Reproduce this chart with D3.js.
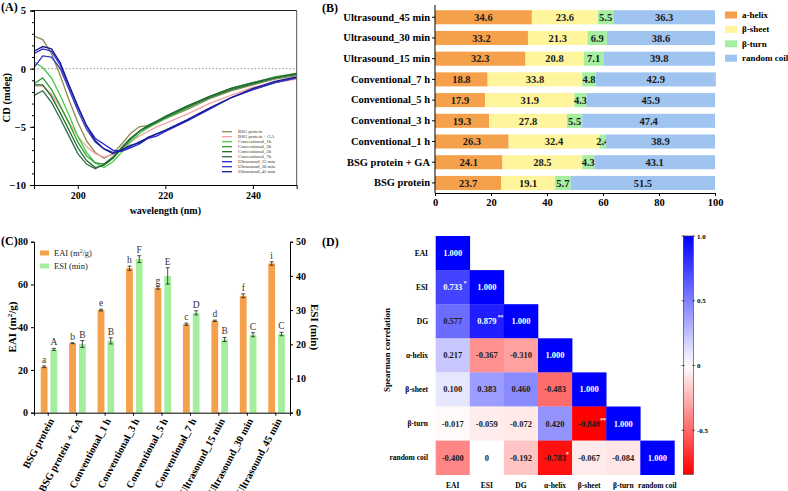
<!DOCTYPE html>
<html><head><meta charset="utf-8">
<script src="https://cdn.jsdelivr.net/npm/d3@7"></script>
<style>
body{margin:0;background:#fff}
text{font-family:"Liberation Serif","Times New Roman",serif}
</style>
</head><body>
<svg id="c" width="788" height="491"></svg>
<script>
// ---------- Panel A data ----------
const wavelengths=[190,192,194,196,198,200,202,204,206,208,210,212,214,216,218,220,225,230,235,240,245,250];
const cdBSG     =[2.8,2.5,1.3,-0.6,-2.7,-4.6,-6.2,-7.2,-7.7,-7.3,-6.5,-5.6,-5.0,-4.9,-4.6,-4.3,-3.5,-2.6,-1.9,-1.4,-0.9,-0.6];
const cdBSGGA   =[-1.5,-1.5,-2.2,-3.3,-4.6,-5.8,-6.7,-7.3,-7.6,-7.4,-6.9,-6.3,-5.8,-5.4,-5.0,-4.7,-3.9,-3.0,-2.3,-1.6,-1.2,-0.9];
const cdConv1h  =[0.6,0.1,-0.8,-2.3,-4.0,-5.8,-7.2,-8.1,-8.5,-8.0,-7.2,-6.3,-5.6,-5.1,-4.7,-4.3,-3.4,-2.5,-1.8,-1.3,-0.8,-0.5];
const cdConv3h  =[-1.3,-0.8,-1.8,-3.2,-4.7,-6.3,-7.5,-8.1,-8.2,-7.7,-6.8,-6.0,-5.4,-4.9,-4.6,-4.2,-3.3,-2.4,-1.7,-1.2,-0.7,-0.4];
const cdConv5h  =[-1.4,-1.4,-2.4,-3.8,-5.3,-6.8,-7.9,-8.5,-8.3,-7.7,-6.9,-6.1,-5.4,-4.9,-4.5,-4.1,-3.2,-2.4,-1.7,-1.2,-0.8,-0.4];
const cdConv7h  =[-2.3,-1.9,-2.9,-4.3,-5.8,-7.3,-8.2,-8.6,-8.2,-7.6,-6.8,-6.0,-5.4,-5.0,-4.6,-4.2,-3.3,-2.5,-1.8,-1.3,-0.8,-0.5];
const cdUS15    =[1.3,1.7,1.5,0.3,-1.5,-3.3,-4.9,-6.0,-6.5,-7.0,-7.1,-6.8,-6.5,-6.0,-5.8,-5.4,-4.5,-3.5,-2.5,-1.8,-1.2,-0.8];
const cdUS30    =[0.1,1.1,1.0,0.0,-1.8,-3.6,-5.2,-6.3,-6.9,-7.2,-7.0,-6.7,-6.3,-6.0,-5.6,-5.3,-4.4,-3.4,-2.5,-1.8,-1.2,-0.8];
const cdUS45    =[1.5,1.9,1.7,0.5,-1.4,-3.2,-4.9,-6.2,-6.9,-7.3,-7.0,-6.6,-6.4,-5.9,-5.6,-5.3,-4.4,-3.4,-2.5,-1.7,-1.1,-0.7];
const cdNames   =["BSG protein","BSG protein + GA","Conventional_1h","Conventional_3h","Conventional_5h","Conventional_7h","Ultrasound_15 min","Ultrasound_30 min","Ultrasound_45 min"];
const cdTicksY  =[-10,-5,0,5];
const cdTicksX  =[200,220,240];

// ---------- Panel B data ----------
const structCategories=["Ultrasound_45 min","Ultrasound_30 min","Ultrasound_15 min","Conventional_7 h","Conventional_5 h","Conventional_3 h","Conventional_1 h","BSG protein + GA","BSG protein"];
const alphaHelix=[34.6,33.2,32.3,18.8,17.9,19.3,26.3,24.1,23.7];
const betaSheet =[23.6,21.3,20.8,33.8,31.9,27.8,32.4,28.5,19.1];
const betaTurn  =[5.5,6.9,7.1,4.8,4.3,5.5,2.4,4.3,5.7];
const randomCoil=[36.3,38.6,39.8,42.9,45.9,47.4,38.9,43.1,51.5];
const structNames=["a-helix","β-sheet","β-turn","random coil"];
const structTicks=[0,20,40,60,80,100];

// ---------- Panel C data ----------
const emCategories=["BSG protein","BSG protein + GA","Conventional_1 h","Conventional_3 h","Conventional_5 h","Conventional_7 h","Ultrasound_15 min","Ultrasound_30 min","Ultrasound_45 min"];
const eaiValues=[21.5,32.5,48.0,67.6,58.4,41.4,43.0,54.7,69.8];
const eaiErrors=[0.4,0.2,0.4,1.0,0.6,0.5,0.3,0.9,0.8];
const esiValues=[18.5,20.1,21.0,44.9,40.0,29.2,21.4,22.8,23.0];
const esiErrors=[0.3,1.0,0.9,1.0,2.4,0.6,0.6,0.6,0.5];
const eaiLetters=["a","b","e","h","g","c","d","f","i"];
const esiLetters=["A","B","B","F","E","D","B","C","C"];
const eaiTicks=[0,20,40,60,80];
const esiTicks=[0,10,20,30,40,50];

// ---------- Panel D data ----------
const corrLabels=["EAI","ESI","DG","α-helix","β-sheet","β-turn","random coil"];
const corrRows=[
  [1.000],
  [0.733,1.000],
  [0.577,0.879,1.000],
  [0.217,-0.367,-0.310,1.000],
  [0.100,0.383,0.460,-0.483,1.000],
  [-0.017,-0.059,-0.072,0.420,-0.840,1.000],
  [-0.400,0,-0.192,-0.783,-0.067,-0.084,1.000]
];
const corrStars=[
  [""],
  ["*",""],
  ["","**",""],
  ["","","",""],
  ["","","","",""],
  ["","","","","***",""],
  ["","","","*","","",""]
];
const cbarTicks=[1.0,0.5,0,-0.5];

// =====================================================
const svg=d3.select("#c");
const F='"Liberation Serif","Times New Roman",serif';

function panelLabel(t,x,y){svg.append("text").attr("x",x).attr("y",y).attr("font-size",12).attr("font-weight","bold").text(t);}
function styleAxis(g,fs){
  g.selectAll("path,line").attr("stroke","#000").attr("stroke-width",1);
  g.selectAll("text").attr("font-family",F).attr("font-weight","bold").attr("font-size",fs).attr("fill","#000");
}

// ---------------- Panel A ----------------
(function(){
  const x=d3.scaleLinear().domain([190,250]).range([34,296.7]);
  const y=d3.scaleLinear().domain([-10,5]).range([185,10.5]);
  const g=svg.append("g");
  g.append("line").attr("x1",x(190)).attr("x2",x(250)).attr("y1",y(0)).attr("y2",y(0))
    .attr("stroke","#999").attr("stroke-dasharray","1.5,2").attr("stroke-width",1);
  const series=[cdBSG,cdBSGGA,cdConv1h,cdConv3h,cdConv5h,cdConv7h,cdUS15,cdUS30,cdUS45];
  const colors=["#8f8a4c","#f4a3a3","#45cc45","#2f9a2f","#1e6b1e","#2d6b4d","#2424d6","#3535c4","#1a1a8c"];
  const line=d3.line().x((d,i)=>x(wavelengths[i])).y(d=>y(d));
  series.forEach((s,k)=>{
    g.append("path").datum(s).attr("d",line).attr("fill","none").attr("stroke",colors[k]).attr("stroke-width",1.3);
  });
  g.append("line").attr("x1",x(190)).attr("x2",x(250)).attr("y1",y(5)).attr("y2",y(5)).attr("stroke","#222").attr("stroke-width",1);
  g.append("line").attr("x1",x(250)).attr("x2",x(250)).attr("y1",y(5)).attr("y2",y(-10)).attr("stroke","#555").attr("stroke-width",1);
  const minor=d3.range(-10,6,1);
  g.append("g").attr("transform",`translate(${x(190)},0)`).call(d3.axisLeft(y).tickValues(minor).tickSize(2).tickFormat(""))
   .call(a=>styleAxis(a,10));
  const ay=g.append("g").attr("transform",`translate(${x(190)},0)`).call(d3.axisLeft(y).tickValues(cdTicksY).tickSize(4).tickPadding(4).tickFormat(d3.format("d")));
  styleAxis(ay,10.5);
  const ax=g.append("g").attr("transform",`translate(0,${y(-10)})`).call(d3.axisBottom(x).tickValues(cdTicksX).tickSize(4).tickPadding(3));
  styleAxis(ax,10);
  svg.append("text").attr("transform",`translate(10,${(y(5)+y(-10))/2}) rotate(-90)`).attr("text-anchor","middle")
    .attr("font-size",10.5).attr("font-weight","bold").text("CD (mdeg)");
  svg.append("text").attr("x",(x(190)+x(250))/2).attr("y",214).attr("text-anchor","middle")
    .attr("font-size",10).attr("font-weight","bold").text("wavelength (nm)");
  const lg=g.append("g");
  cdNames.forEach((n,i)=>{
    const yy=131.7+i*5;
    lg.append("line").attr("x1",222).attr("x2",232).attr("y1",yy).attr("y2",yy).attr("stroke",colors[i]).attr("stroke-width",1.3);
    lg.append("text").attr("x",238).attr("y",yy+1.6).attr("font-size",4.8).attr("fill","#333").text(n);
  });
  panelLabel("(A)",1,11);
})();

// ---------------- Panel B ----------------
(function(){
  const x=d3.scaleLinear().domain([0,100]).range([435,715]);
  const y=d3.scaleBand().domain(structCategories).range([3.6,196.6]).padding(0.32);
  const cols=["#f5a14b","#fff59c","#a6efa0","#9fc4f0"];
  const g=svg.append("g");
  const data=structCategories.map((c,i)=>[alphaHelix[i],betaSheet[i],betaTurn[i],randomCoil[i]]);
  data.forEach((vals,i)=>{
    let acc=0;
    vals.forEach((v,k)=>{
      g.append("rect").attr("x",x(acc)).attr("y",y(structCategories[i])).attr("width",x(acc+v)-x(acc))
        .attr("height",y.bandwidth()).attr("fill",cols[k]);
      g.append("text").attr("x",(x(acc)+x(acc+v))/2).attr("y",y(structCategories[i])+y.bandwidth()/2+3.8)
        .attr("text-anchor","middle").attr("font-size",10.5).attr("font-weight","bold").attr("fill","#1a1a1a").text(v.toFixed(1));
      acc+=v;
    });
  });
  const ay=g.append("g").attr("transform",`translate(435,0)`).call(d3.axisLeft(y).tickSize(3).tickPadding(2));
  ay.select(".domain").remove();
  styleAxis(ay,10.5);
  g.append("line").attr("x1",435).attr("x2",435).attr("y1",5).attr("y2",193).attr("stroke","#000");
  const ax=g.append("g").attr("transform",`translate(0,193)`).call(d3.axisBottom(x).tickValues(structTicks).tickSize(3).tickPadding(3));
  styleAxis(ax,10.5);
  structNames.forEach((n,i)=>{
    const yy=15+i*14.4;
    g.append("rect").attr("x",725).attr("y",yy-3.5).attr("width",12).attr("height",7).attr("fill",cols[i]);
    g.append("text").attr("x",742).attr("y",yy+3).attr("font-size",9).attr("font-weight","bold").text(n);
  });
  panelLabel("(B)",322,12);
})();

// ---------------- Panel C ----------------
(function(){
  const x=d3.scaleBand().domain(emCategories).range([34,290]).padding(0);
  const yL=d3.scaleLinear().domain([0,80]).range([412.7,241.7]);
  const yR=d3.scaleLinear().domain([0,50]).range([412.7,241.7]);
  const g=svg.append("g");
  const bw=6.8;
  emCategories.forEach((c,i)=>{
    const cx=x(c)+x.bandwidth()/2+0.8;
    const xo=cx-8.3, xg=cx+1.5;
    g.append("rect").attr("x",xo).attr("y",yL(eaiValues[i])).attr("width",bw).attr("height",yL(0)-yL(eaiValues[i])).attr("fill","#f5a04a");
    g.append("rect").attr("x",xg).attr("y",yR(esiValues[i])).attr("width",bw).attr("height",yR(0)-yR(esiValues[i])).attr("fill","#a3ef9d");
    const eb=(xc,yt,yb)=>{
      g.append("line").attr("x1",xc).attr("x2",xc).attr("y1",yt).attr("y2",yb).attr("stroke","#222").attr("stroke-width",0.8);
      g.append("line").attr("x1",xc-2).attr("x2",xc+2).attr("y1",yt).attr("y2",yt).attr("stroke","#222").attr("stroke-width",0.8);
      g.append("line").attr("x1",xc-2).attr("x2",xc+2).attr("y1",yb).attr("y2",yb).attr("stroke","#222").attr("stroke-width",0.8);
    };
    eb(xo+bw/2,yL(eaiValues[i]+eaiErrors[i]),yL(eaiValues[i]-eaiErrors[i]));
    eb(xg+bw/2,yR(esiValues[i]+esiErrors[i]),yR(esiValues[i]-esiErrors[i]));
    g.append("text").attr("x",xo+bw/2).attr("y",yL(eaiValues[i]+eaiErrors[i])-3).attr("text-anchor","middle")
      .attr("font-size",9.5).attr("fill","#333").text(eaiLetters[i]);
    g.append("text").attr("x",xg+bw/2).attr("y",yR(esiValues[i]+esiErrors[i])-3).attr("text-anchor","middle")
      .attr("font-size",9.5).attr("fill","#333").text(esiLetters[i]);
  });
  const al=g.append("g").attr("transform","translate(34,0)").call(d3.axisLeft(yL).tickValues(eaiTicks).tickSize(3).tickPadding(3));
  styleAxis(al,10);
  const ar=g.append("g").attr("transform","translate(290,0)").call(d3.axisRight(yR).tickValues(esiTicks).tickSize(3).tickPadding(3));
  styleAxis(ar,10);
  const ab=g.append("g").attr("transform",`translate(0,412.7)`).call(d3.axisBottom(x).tickSize(3).tickFormat(""));
  styleAxis(ab,10);
  emCategories.forEach(c=>{
    const cx=x(c)+x.bandwidth()/2+3;
    g.append("text").attr("transform",`translate(${cx},419) rotate(-62)`).attr("text-anchor","end").attr("dy","0.35em")
      .attr("font-size",10.3).attr("font-weight","bold").text(c);
  });
  const tl=svg.append("text").attr("transform",`translate(16,327) rotate(-90)`).attr("text-anchor","middle")
    .attr("font-size",11).attr("font-weight","bold");
  tl.append("tspan").text("EAI (m");
  tl.append("tspan").attr("font-size",7).attr("dy",-4).text("2");
  tl.append("tspan").attr("dy",4).text("/g)");
  svg.append("text").attr("transform",`translate(311,327) rotate(90)`).attr("text-anchor","middle")
    .attr("font-size",11).attr("font-weight","bold").text("ESI (min)");
  g.append("rect").attr("x",40).attr("y",250.5).attr("width",9).attr("height",5).attr("fill","#f5a04a");
  const t1=g.append("text").attr("x",54).attr("y",256).attr("font-size",8.5).attr("fill","#222");
  t1.append("tspan").text("EAI (m");
  t1.append("tspan").attr("font-size",5.5).attr("dy",-3).text("2");
  t1.append("tspan").attr("dy",3).text("/g)");
  g.append("rect").attr("x",40).attr("y",263.5).attr("width",9).attr("height",5).attr("fill","#a3ef9d");
  g.append("text").attr("x",54).attr("y",269).attr("font-size",8.5).attr("fill","#222").text("ESI (min)");
  panelLabel("(C)",1,245);
})();

// ---------------- Panel D ----------------
(function(){
  const xs=d3.scaleBand().domain(corrLabels).range([435.7,674.4]);
  const ys=d3.scaleBand().domain(corrLabels).range([236,474.7]);
  const color=d3.scaleLinear().domain([-0.84,0,1]).range(["#ff0000","#ffffff","#0000ff"]);
  const g=svg.append("g");
  corrRows.forEach((row,i)=>{
    row.forEach((v,j)=>{
      const x0=xs(corrLabels[j]), y0=ys(corrLabels[i]);
      g.append("rect").attr("x",x0).attr("y",y0).attr("width",xs.bandwidth()+0.3).attr("height",ys.bandwidth()+0.3).attr("fill",color(v));
      const txt=v===0?"0":v.toFixed(3);
      const fill=v>0.7?"#ffffff":"#1a1a1a";
      g.append("text").attr("x",x0+xs.bandwidth()/2).attr("y",y0+ys.bandwidth()/2+3)
        .attr("text-anchor","middle").attr("font-size",8.5).attr("font-weight","bold").attr("fill",fill).text(txt);
      const st=corrStars[i][j];
      if(st){
        g.append("text").attr("x",x0+xs.bandwidth()/2+11).attr("y",y0+ys.bandwidth()/2-2)
          .attr("font-size",5.5).attr("font-weight","bold").attr("fill","#ffffff").text(st);
      }
    });
  });
  corrLabels.forEach(l=>{
    g.append("text").attr("x",428).attr("y",ys(l)+ys.bandwidth()/2+2.5).attr("text-anchor","end")
      .attr("font-size",7.5).attr("font-weight","bold").text(l);
    g.append("text").attr("x",xs(l)+xs.bandwidth()/2).attr("y",488).attr("text-anchor","middle")
      .attr("font-size",7.5).attr("font-weight","bold").text(l);
  });
  svg.append("text").attr("transform","translate(390,350) rotate(-90)").attr("text-anchor","middle")
    .attr("font-size",9).attr("font-weight","bold").text("Spearman correlation");
  const cy=d3.scaleLinear().domain([-0.84,1]).range([474.3,236]);
  const defs=svg.append("defs");
  const grad=defs.append("linearGradient").attr("id","cb").attr("x1",0).attr("x2",0).attr("y1",1).attr("y2",0);
  d3.range(0,1.0001,0.05).forEach(t=>{
    const v=-0.84+t*1.84;
    grad.append("stop").attr("offset",t).attr("stop-color",color(v));
  });
  g.append("rect").attr("x",683.3).attr("y",236).attr("width",10).attr("height",474.3-236).attr("fill","url(#cb)")
    .attr("stroke","#333").attr("stroke-width",0.6);
  cbarTicks.forEach(v=>{
    g.append("line").attr("x1",681.5).attr("x2",684.5).attr("y1",cy(v)).attr("y2",cy(v)).attr("stroke","#333").attr("stroke-width",0.8);
    g.append("line").attr("x1",692.3).attr("x2",695).attr("y1",cy(v)).attr("y2",cy(v)).attr("stroke","#333").attr("stroke-width",0.8);
    g.append("text").attr("x",697).attr("y",cy(v)+2.5).attr("font-size",7).attr("font-weight","bold")
      .text(v===0?"0":(v===1?"1.0":String(v)));
  });
  panelLabel("(D)",322,246);
})();
</script>
</body></html>
